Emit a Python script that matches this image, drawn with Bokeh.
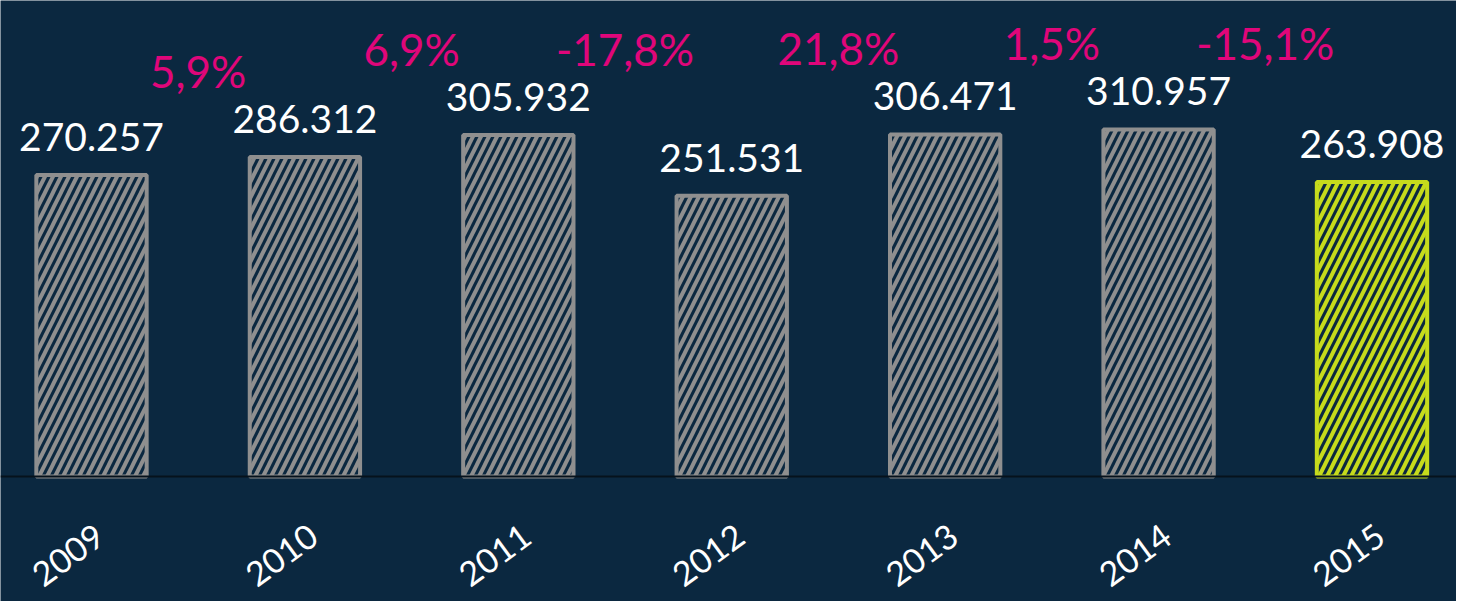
from bokeh.plotting import figure
from bokeh.models import ColumnDataSource, Range1d, Span
from bokeh.core.properties import value
from bokeh.embed import file_html
from bokeh.resources import INLINE

years = ["2009", "2010", "2011", "2012", "2013", "2014", "2015"]
values = [270.257, 286.312, 305.932, 251.531, 306.471, 310.957, 263.908]
value_labels = ["270.257", "286.312", "305.932", "251.531", "306.471", "310.957", "263.908"]
pct_labels = ["5,9%", "6,9%", "-17,8%", "21,8%", "1,5%", "-15,1%"]
highlight = "2015"

BG = "#0b2840"
GRAY = "#8f8f8f"
LIME = "#c6db1c"
PINK = "#e0067a"
FONT = "Lato"

xs = list(range(len(years)))
colors = [LIME if y == highlight else GRAY for y in years]

bars = ColumnDataSource(dict(x=xs, top=values, lab=value_labels, color=colors,
                             year=years, base=[0] * len(years)))
pct = ColumnDataSource(dict(
    x=[i + 0.5 for i in range(len(pct_labels))],
    y=[max(values[i], values[i + 1]) for i in range(len(pct_labels))],
    lab=pct_labels,
))

p = figure(width=1456, height=601, output_backend="svg", toolbar_location=None,
           x_range=Range1d(-0.4264, 6.396), y_range=Range1d(-112, 426.5),
           min_border_left=0, min_border_right=0, min_border_top=0,
           min_border_bottom=0)
p.background_fill_color = BG
p.border_fill_color = BG
p.outline_line_color = None
p.grid.visible = False
p.yaxis.visible = False
p.xaxis.visible = False

p.vbar(x="x", width=0.517, top="top", bottom=0, source=bars,
       fill_color=None, line_color="color", line_width=4,
       hatch_pattern="/", hatch_color="color", hatch_scale=16, hatch_weight=4)

p.add_layout(Span(location=0, dimension="width", line_color="#06121c", line_width=2))

p.text(x="x", y="top", text="lab", source=bars, text_color="white",
       text_font=value(FONT), text_font_size="39px", text_align="center",
       text_baseline="middle", y_offset=-38)

p.text(x="x", y="y", text="lab", source=pct, text_color=PINK,
       text_font=value(FONT), text_font_size="44px", text_align="center",
       text_baseline="middle", y_offset=-86)

# category labels under the baseline, rotated
p.text(x="x", y="base", text="year", source=bars, text_color="white",
       text_font=value(FONT), text_font_size="34px", text_align="right",
       text_baseline="top", angle=0.63, x_offset=1, y_offset=45)

open("out.html", "w").write(file_html(p, INLINE))
